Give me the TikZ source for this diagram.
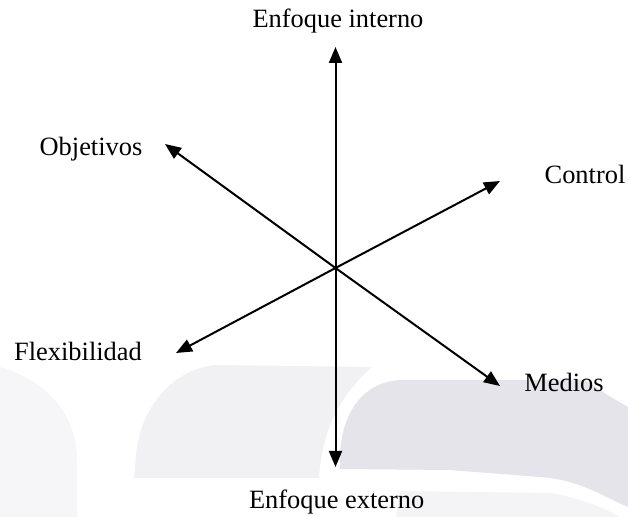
\documentclass[tikz,border=0pt]{standalone}
\usepackage{fontspec}
\setmainfont{Liberation Serif}
\usetikzlibrary{arrows.meta}
\definecolor{shadeA}{RGB}{246,246,249}
\definecolor{shadeB}{RGB}{241,241,244}
\definecolor{shadeC}{RGB}{228,228,234}
\definecolor{shadeD}{RGB}{244,244,246}
\tikzset{
  axis/.style={line width=1pt, -{Triangle[length=8pt,width=6.5pt]}},
  pole/.style={anchor=base, inner sep=0pt, font=\fontsize{13.2}{15}\selectfont},
}
\begin{document}
\begin{tikzpicture}[x=0.5pt, y=-0.5pt]
\useasboundingbox (0,0) rectangle (628,517);
\fill[white] (0,0) rectangle (628,517);

% soft background shapes
\fill[shadeA] (0,367) .. controls (40,378) and (77,410) .. (77,460) -- (77,517) -- (0,517) -- cycle;
\fill[shadeB] (134,478) -- (136,455) .. controls (140,410) and (170,370) .. (215,365)
  -- (372,367) .. controls (340,395) and (322,430) .. (319,478) -- cycle;
\fill[shadeC] (340,469) -- (340,455) .. controls (342,410) and (365,382) .. (400,380)
  -- (585,380) .. controls (600,390) and (615,400) .. (628,407) -- (628,507)
  .. controls (600,495) and (580,480) .. (540,477) -- (450,470) -- cycle;
\fill[shadeD] (396,517) -- (400,491) -- (550,493) .. controls (580,498) and (605,508) .. (620,517) -- cycle;

% axes
\coordinate (o) at (335.5,268);
\coordinate (tN) at (335.5,47);
\coordinate (tS) at (335.5,467);
\coordinate (tObj) at (165,144);
\coordinate (tCtl) at (500,181);
\coordinate (tFlex) at (176,353);
\coordinate (tMed) at (500,386);

\draw[axis] (o) -- (tN);
\draw[axis] (o) -- (tS);
\draw[axis] (o) -- (tObj);
\draw[axis] (o) -- (tCtl);
\draw[axis] (o) -- (tFlex);
\draw[axis] (o) -- (tMed);

% pole labels
\node[pole] (int) at (338,28) {Enfoque interno};
\node[pole] (ext) at (336.7,508.7) {Enfoque externo};
\node[pole] (obj) at (91,156) {Objetivos};
\node[pole] (ctl) at (585,184) {Control};
\node[pole] (flex) at (78,361) {Flexibilidad};
\node[pole] (med) at (564,392) {Medios};
\end{tikzpicture}
\end{document}
